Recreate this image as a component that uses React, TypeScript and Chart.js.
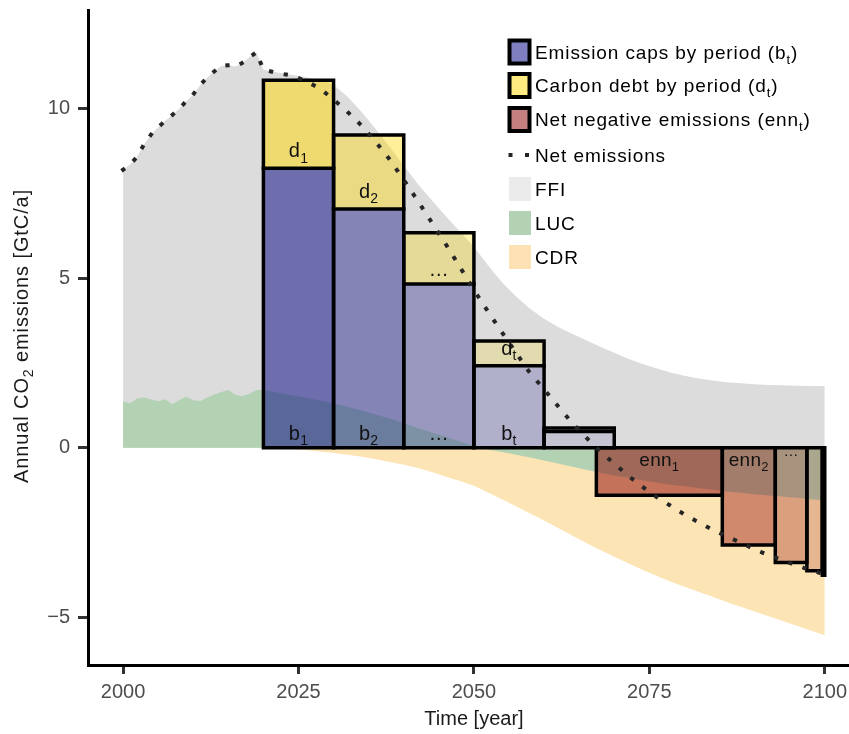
import { useEffect, useRef } from 'react';
import { Chart, registerables } from 'chart.js';

Chart.register(...registerables);

const FONT = '"Liberation Sans", Arial, Helvetica, sans-serif';

// ---------- historical data (2000-2019) ----------
const histYears = [2000, 2001, 2002, 2003, 2004, 2005, 2006, 2007, 2008, 2009, 2010, 2011, 2012, 2013, 2014, 2015, 2016, 2017, 2018, 2019];
const histNet = [8.2, 8.35, 8.58, 8.95, 9.24, 9.45, 9.64, 9.81, 10.0, 10.22, 10.42, 10.7, 10.92, 11.1, 11.26, 11.28, 11.24, 11.35, 11.52, 11.66];
const histLUC = [1.36, 1.31, 1.45, 1.48, 1.42, 1.37, 1.43, 1.28, 1.4, 1.5, 1.4, 1.38, 1.48, 1.57, 1.64, 1.7, 1.56, 1.52, 1.58, 1.7];

// ---------- scenario data (2020-2100) ----------
const futYears = [2020, 2022, 2024, 2026, 2028, 2030, 2032, 2034, 2036, 2038, 2040, 2042, 2044, 2046, 2048, 2050, 2052, 2054, 2056, 2058, 2060, 2062, 2064, 2066, 2068, 2070, 2072, 2074, 2076, 2078, 2080, 2082, 2084, 2086, 2088, 2090, 2092, 2094, 2096, 2098, 2100];
const futFFI = [11.15, 11.07, 11.0, 10.93, 10.85, 10.7, 10.35, 9.9, 9.4, 8.87, 8.32, 7.78, 7.3, 6.83, 6.38, 5.93, 5.38, 4.88, 4.46, 4.1, 3.8, 3.56, 3.36, 3.17, 2.98, 2.8, 2.62, 2.47, 2.34, 2.22, 2.12, 2.04, 1.98, 1.93, 1.9, 1.87, 1.85, 1.84, 1.83, 1.82, 1.82];
const futNet = [11.15, 11.05, 10.98, 10.82, 10.6, 10.27, 9.9, 9.5, 9.02, 8.5, 7.9, 7.28, 6.64, 6.0, 5.33, 4.65, 4.02, 3.4, 2.8, 2.2, 1.72, 1.22, 0.73, 0.3, -0.11, -0.47, -0.83, -1.15, -1.45, -1.71, -1.97, -2.2, -2.42, -2.61, -2.8, -3.0, -3.17, -3.32, -3.48, -3.61, -3.74];
const futLUC = [1.7, 1.63, 1.55, 1.47, 1.39, 1.3, 1.2, 1.1, 0.98, 0.86, 0.72, 0.58, 0.45, 0.32, 0.18, 0.05, -0.05, -0.13, -0.21, -0.29, -0.38, -0.47, -0.56, -0.65, -0.74, -0.82, -0.89, -0.96, -1.03, -1.09, -1.14, -1.19, -1.24, -1.29, -1.33, -1.37, -1.41, -1.44, -1.48, -1.52, -1.56];
const futCDR = [0, -0.02, -0.04, -0.07, -0.11, -0.16, -0.21, -0.27, -0.34, -0.42, -0.5, -0.6, -0.72, -0.86, -0.98, -1.12, -1.32, -1.52, -1.73, -1.94, -2.15, -2.37, -2.59, -2.81, -3.02, -3.22, -3.41, -3.6, -3.78, -3.95, -4.1, -4.25, -4.4, -4.55, -4.69, -4.83, -4.97, -5.11, -5.25, -5.39, -5.53];

// ---------- periods ----------
const capStart = [2020, 2030, 2040, 2050, 2060];
const capEnd = [2030, 2040, 2050, 2060, 2070];
const capB = [8.24, 7.04, 4.83, 2.42, 0.48];
const capD = [2.6, 2.18, 1.51, 0.73, 0.1];
const periodAlpha = [0.5, 0.4, 0.3, 0.2, 0.1];

const ennStart = [2067.45, 2085.4, 2092.95, 2097.45, 2099.65];
const ennEnd = [2085.4, 2092.95, 2097.45, 2099.65, 2100];
const ennVal = [-1.4, -2.87, -3.39, -3.63, -3.76];

// ---------- text ----------
const dLabelMain = ['d', 'd', '\u2026', 'd'];
const dLabelSub = ['1', '2', '', 't'];
const bLabelMain = ['b', 'b', '\u2026', 'b'];
const bLabelSub = ['1', '2', '', 't'];
const ennLabelMain = ['enn', 'enn', '\u2026'];
const ennLabelSub = ['1', '2', ''];

const xTickValues = [2000, 2025, 2050, 2075, 2100];
const yTickValues = [-5, 0, 5, 10];

const legendMain = ['Emission caps by period (b', 'Carbon debt by period (d', 'Net negative emissions (enn', 'Net emissions', 'FFI', 'LUC', 'CDR'];
const legendSub = ['t', 't', 't', '', '', '', ''];
const legendTail = [')', ')', ')', '', '', '', ''];

const xTitle = 'Time [year]';
const yTitleParts = [{ t: 'Annual CO' }, { t: '2', sub: true }, { t: ' emissions [GtC/a]' }];

const C_CAP = (a: number) => `rgba(0,0,128,${a})`;
const C_DEBT = (a: number) => `rgba(255,215,0,${a})`;
const C_ENN = (a: number) => `rgba(139,0,0,${a})`;
const C_FFI = '#dcdcdc';
const C_LUC = '#b3d1b3';
const C_CDR = '#fde4b4';

// canvas is shifted up by this many pixels inside the page
const SHIFT_Y = 10;

type Part = { t: string; sub?: boolean };

function pts(xs: number[], ys: number[]) {
  return xs.map((x, i) => ({ x, y: ys[i] }));
}

function rich(ctx: CanvasRenderingContext2D, parts: Part[], x: number, y: number, align: 'left' | 'center', size: number, spacing = 0, subScale = 0.7) {
  const mainF = `${size}px ${FONT}`;
  const subF = `${Math.round(size * subScale)}px ${FONT}`;
  (ctx as any).letterSpacing = `${spacing}px`;
  let w = 0;
  for (const p of parts) {
    ctx.font = p.sub ? subF : mainF;
    w += ctx.measureText(p.t).width;
  }
  let cx = align === 'center' ? x - w / 2 : x;
  ctx.textAlign = 'left';
  ctx.textBaseline = 'alphabetic';
  for (const p of parts) {
    ctx.font = p.sub ? subF : mainF;
    ctx.fillText(p.t, cx, p.sub ? y + size * 0.26 : y);
    cx += ctx.measureText(p.t).width;
  }
  (ctx as any).letterSpacing = '0px';
}

const annotPlugin = {
  id: 'annot',
  afterDatasetsDraw(chart: any) {
    const { ctx, scales } = chart;
    const x = scales.x;
    const y = scales.y;
    ctx.save();
    ctx.fillStyle = '#111111';
    for (let i = 0; i < dLabelMain.length; i++) {
      const cx = x.getPixelForValue((capStart[i] + capEnd[i]) / 2);
      const isDots = dLabelSub[i] === '';
      const by = y.getPixelForValue(capB[i]) - (isDots ? 8 : 11);
      rich(ctx, [{ t: dLabelMain[i] }, { t: dLabelSub[i], sub: true }], cx, by, 'center', 20, 0.3);
    }
    for (let i = 0; i < bLabelMain.length; i++) {
      const cx = x.getPixelForValue((capStart[i] + capEnd[i]) / 2);
      const by = y.getPixelForValue(0) - 8;
      rich(ctx, [{ t: bLabelMain[i] }, { t: bLabelSub[i], sub: true }], cx, by, 'center', 20, 0.3);
    }
    for (let i = 0; i < ennLabelMain.length; i++) {
      const cx = x.getPixelForValue((ennStart[i] + ennEnd[i]) / 2);
      const isDots = ennLabelSub[i] === '';
      const by = y.getPixelForValue(0) + (isDots ? 8 : 18);
      rich(ctx, [{ t: ennLabelMain[i] }, { t: ennLabelSub[i], sub: true }], cx, by, 'center', isDots ? 15 : 19, 0.3);
    }
    ctx.restore();
  },
  afterDraw(chart: any) {
    const { ctx } = chart;
    ctx.save();
    ctx.translate(0, SHIFT_Y);
    // legend
    const rowY = [52, 85.5, 119.5, 155, 189, 223, 257];
    const boxFill = [C_CAP(0.5), C_DEBT(0.5), C_ENN(0.5)];
    for (let i = 0; i < 3; i++) {
      ctx.fillStyle = boxFill[i];
      ctx.fillRect(509.5, rowY[i] - 11.5, 20, 23);
      ctx.strokeStyle = '#000000';
      ctx.lineWidth = 4;
      ctx.strokeRect(509.5, rowY[i] - 11.5, 20, 23);
    }
    ctx.fillStyle = '#262626';
    ctx.fillRect(508.5, rowY[3] - 2, 4, 4);
    ctx.fillRect(525, rowY[3] - 2, 4, 4);
    const swatch = ['#ebebeb', C_LUC, '#fde3b3'];
    for (let i = 0; i < 3; i++) {
      ctx.fillStyle = swatch[i];
      ctx.fillRect(509, rowY[4 + i] - 12, 22, 24);
    }
    ctx.fillStyle = '#000000';
    for (let i = 0; i < legendMain.length; i++) {
      const base = rowY[i] + 6.8;
      const parts: Part[] = [{ t: legendMain[i] }];
      if (legendSub[i]) parts.push({ t: legendSub[i], sub: true });
      if (legendTail[i]) parts.push({ t: legendTail[i] });
      rich(ctx, parts, 535, base, 'left', 19, 0.9);
    }
    // axis titles
    ctx.fillStyle = '#1a1a1a';
    rich(ctx, [{ t: xTitle }], 474, 725, 'center', 20, 0);
    ctx.translate(28, 336);
    ctx.rotate(-Math.PI / 2);
    rich(ctx, yTitleParts, 0, 0, 'center', 20, 0.9);
    ctx.restore();
  },
};

export default function App() {
  const ref = useRef<HTMLCanvasElement>(null);
  useEffect(() => {
    const canvas = ref.current;
    if (!canvas) return;
    const datasets: any[] = [];
    const area = (label: string, data: any[], color: string) =>
      datasets.push({ label, data, fill: 'origin', backgroundColor: color, borderColor: 'transparent', borderWidth: 0 });

    area('FFI', [...pts(histYears, histNet), ...pts(futYears, futFFI)], C_FFI);
    area('CDR', pts(futYears, futCDR), C_CDR);
    area('LUC', [...pts(histYears, histLUC), ...pts(futYears, futLUC)], C_LUC);

    capStart.forEach((s, i) => {
      const e = capEnd[i];
      const b = capB[i];
      const top = capB[i] + capD[i];
      datasets.push({ label: 'b', data: [{ x: s, y: b }, { x: e, y: b }], fill: 'origin', backgroundColor: C_CAP(periodAlpha[i]), borderColor: 'transparent', borderWidth: 0 });
      datasets.push({ label: 'd', data: [{ x: s, y: top }, { x: e, y: top }], fill: { value: b }, backgroundColor: C_DEBT(periodAlpha[i]), borderColor: 'transparent', borderWidth: 0 });
    });
    ennStart.forEach((s, i) => {
      const e = ennEnd[i];
      datasets.push({ label: 'enn', data: [{ x: s, y: ennVal[i] }, { x: e, y: ennVal[i] }], fill: 'origin', backgroundColor: C_ENN(periodAlpha[i]), borderColor: 'transparent', borderWidth: 0 });
    });
    const outline = (data: any[]) =>
      datasets.push({ label: 'outline', data, fill: false, borderColor: '#000000', borderWidth: 3.5, borderJoinStyle: 'miter', borderCapStyle: 'square' });
    capStart.forEach((s, i) => {
      const e = capEnd[i];
      const b = capB[i];
      const top = capB[i] + capD[i];
      outline([{ x: s, y: 0 }, { x: s, y: top }, { x: e, y: top }, { x: e, y: 0 }, { x: s, y: 0 }]);
      outline([{ x: s, y: b }, { x: e, y: b }]);
    });
    ennStart.forEach((s, i) => {
      const e = ennEnd[i];
      outline([{ x: s, y: 0 }, { x: s, y: ennVal[i] }, { x: e, y: ennVal[i] }, { x: e, y: 0 }, { x: s, y: 0 }]);
    });
    datasets.push({
      label: 'Net emissions',
      data: [...pts(histYears, histNet), ...pts(futYears, futNet)],
      fill: false,
      borderColor: '#262626',
      borderWidth: 4,
      borderDash: [0.3, 14.7],
      borderCapStyle: 'square',
    });
    datasets.forEach((d, i) => {
      d.order = datasets.length - i;
      d.pointRadius = 0;
      d.pointHoverRadius = 0;
      d.pointHitRadius = 0;
      d.tension = 0;
    });

    const tickFont = { family: FONT, size: 20 };
    const chart = new Chart(canvas, {
      type: 'line',
      data: { datasets },
      options: {
        animation: false,
        responsive: false,
        maintainAspectRatio: false,
        events: [],
        layout: { padding: { top: 10, right: 0, left: 0, bottom: 0 } },
        plugins: { legend: { display: false }, tooltip: { enabled: false } },
        scales: {
          x: {
            type: 'linear',
            min: 1995,
            max: 2103.4,
            afterBuildTicks: (axis: any) => {
              axis.ticks = xTickValues.map((v) => ({ value: v }));
            },
            afterFit: (axis: any) => {
              axis.height = 69;
            },
            ticks: { color: '#4d4d4d', font: tickFont, padding: 6, autoSkip: false, maxRotation: 0, callback: (v: any) => String(v) },
            grid: { drawOnChartArea: false, drawTicks: true, tickLength: 9, lineWidth: 3, color: '#333333', tickColor: '#333333' },
            border: { display: true, color: '#000000', width: 3 },
          },
          y: {
            type: 'linear',
            min: -6.41,
            max: 12.91,
            afterBuildTicks: (axis: any) => {
              axis.ticks = yTickValues.map((v) => ({ value: v }));
            },
            afterFit: (axis: any) => {
              axis.width = 88;
            },
            ticks: {
              color: '#4d4d4d',
              font: tickFont,
              padding: 8,
              autoSkip: false,
              callback: (v: any) => (Number(v) < 0 ? '\u2212' + Math.abs(Number(v)) : String(v)),
            },
            grid: { drawOnChartArea: false, drawTicks: true, tickLength: 10, lineWidth: 3, color: '#333333', tickColor: '#333333' },
            border: { display: true, color: '#000000', width: 3 },
          },
        },
      } as any,
      plugins: [annotPlugin],
    });
    return () => chart.destroy();
  }, []);

  return (
    <div style={{ position: 'absolute', left: 0, top: 0, width: 849, height: 734, overflow: 'hidden', background: '#ffffff' }}>
      <canvas
        ref={ref}
        width={853}
        height={744}
        style={{ position: 'absolute', left: 0, top: -SHIFT_Y, width: 853, height: 744, display: 'block' }}
      />
    </div>
  );
}
